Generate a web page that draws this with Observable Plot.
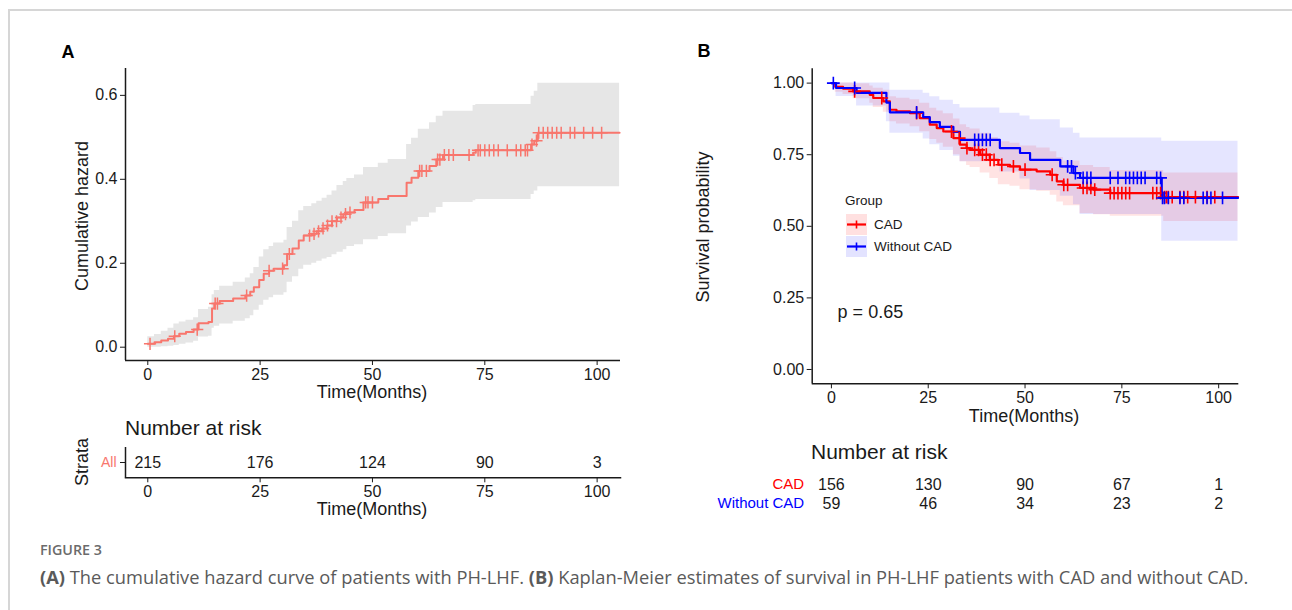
<!DOCTYPE html>
<html><head><meta charset="utf-8">
<script src="https://cdn.jsdelivr.net/npm/d3@7"></script>
<script src="https://cdn.jsdelivr.net/npm/@observablehq/plot@0.6"></script>
<style>
body{margin:0;background:#fff;}
#root{position:relative;width:1292px;height:610px;overflow:hidden;font-family:"Liberation Sans",Arial,sans-serif;color:#1a1a1a;}
.abs{position:absolute;white-space:nowrap;line-height:1;}
svg{overflow:visible;}
</style></head><body><div id="root"></div>
<script>
// ---------- Panel A: cumulative hazard ----------
const A_time   = [0,1.5,3,4.5,5.8,7,8.5,10.2,11.3,13.5,14.3,14.8,16,19,21.7,22.8,23.6,24.8,25.8,27,28,30.3,31,32.2,33.6,34.7,36.5,37.6,38.8,39.9,41,42.1,43.5,44.3,46,48,51.3,53.5,57.6,58.7,60.2,62.7,64.2,65.7,72.4,73,85.3,86,86.8];
const A_cumhaz = [0.008,0.012,0.016,0.020,0.026,0.032,0.036,0.042,0.057,0.060,0.092,0.104,0.110,0.116,0.123,0.132,0.143,0.160,0.175,0.182,0.187,0.195,0.222,0.235,0.254,0.266,0.270,0.276,0.283,0.290,0.300,0.309,0.317,0.321,0.327,0.345,0.353,0.360,0.392,0.404,0.420,0.432,0.447,0.458,0.463,0.469,0.483,0.492,0.511];
const A_lower  = [0.000,0.000,0.001,0.002,0.004,0.007,0.010,0.014,0.024,0.026,0.045,0.050,0.055,0.062,0.068,0.075,0.088,0.100,0.112,0.118,0.124,0.130,0.155,0.168,0.186,0.195,0.200,0.205,0.210,0.214,0.220,0.226,0.232,0.240,0.244,0.256,0.264,0.270,0.289,0.298,0.309,0.320,0.333,0.345,0.349,0.352,0.364,0.372,0.382];
const A_upper  = [0.025,0.030,0.038,0.045,0.055,0.060,0.064,0.070,0.090,0.095,0.125,0.135,0.145,0.155,0.165,0.175,0.190,0.215,0.232,0.240,0.248,0.255,0.285,0.300,0.325,0.335,0.342,0.348,0.355,0.362,0.372,0.385,0.395,0.402,0.410,0.428,0.438,0.447,0.483,0.498,0.519,0.535,0.550,0.562,0.576,0.578,0.598,0.610,0.629];
const A_censor = [0.5,6,11,15,15.5,22,27,30,31.5,36,37,38,39,40,41,42,43,44,45,48.5,49,50,60.5,61,62,64.5,65,66,67,68,71.5,73.5,74,75,76,77,78,80,82,83,84,84.5,85.5,86.5,87,88,89,90,91,92,94,95,97,99,101];
const A_xTicks = [0,25,50,75,100];
const A_yTicks = [0,0.2,0.4,0.6];
const A_riskTimes = [0,25,50,75,100];
const A_riskAll   = [215,176,124,90,3];

// ---------- Panel B: Kaplan-Meier ----------
const CAD_time  = [0,1,3,5.6,9.9,10.8,13.4,15.1,16.8,20.3,22.8,25.4,27.2,28.9,31.5,33.2,34.9,35.8,38.4,40.9,43.1,46.1,48.7,53,56.5,58.2,59.9,64.2,67.7,72,85.8];
const CAD_surv  = [1,0.987,0.981,0.971,0.959,0.948,0.936,0.907,0.901,0.895,0.878,0.855,0.843,0.831,0.808,0.785,0.773,0.767,0.750,0.732,0.715,0.709,0.698,0.692,0.680,0.657,0.645,0.634,0.628,0.616,0.602];
const CAD_lower = [1,0.968,0.960,0.945,0.930,0.915,0.898,0.865,0.857,0.848,0.830,0.803,0.790,0.776,0.750,0.725,0.712,0.705,0.686,0.667,0.645,0.640,0.628,0.622,0.608,0.585,0.572,0.545,0.540,0.535,0.517];
const CAD_upper = [1,1,1,0.998,0.990,0.982,0.975,0.952,0.947,0.942,0.930,0.912,0.903,0.893,0.875,0.855,0.845,0.840,0.825,0.810,0.795,0.790,0.780,0.773,0.760,0.740,0.728,0.712,0.705,0.695,0.686];
const CAD_censor = [6,13,22,31,33,35,37,38,39,40,41,42,44,47,50,57,60,61,65,66,67,68,72,73,74,75,76,77,83,84,85,86,86.5,87,88,90,91,92,94,97,99];

const WO_time  = [0,1.2,6.5,14.2,15.1,23.7,25.4,28,31.5,33.2,43.5,48.7,51.3,59.1,62.5,64.2,85.3];
const WO_surv  = [1,0.983,0.966,0.932,0.898,0.881,0.864,0.847,0.830,0.802,0.773,0.756,0.732,0.709,0.686,0.669,0.599];
const WO_lower = [1,0.953,0.920,0.865,0.825,0.805,0.785,0.765,0.745,0.725,0.690,0.665,0.625,0.605,0.575,0.541,0.448];
const WO_upper = [1,1,1,1,0.975,0.965,0.952,0.940,0.925,0.913,0.895,0.885,0.872,0.843,0.825,0.808,0.797];
const WO_censor = [0.5,6,22,37,38,39,40,41,61,62,63,65,66,67,72,74,76,77,78,79,80,81,84,85,85.5,86,87,90,91,96,97,98,101];

const B_xTicks = [0,25,50,75,100];
const B_yTicks = [0,0.25,0.5,0.75,1];
const B_riskTimes = [0,25,50,75,100];
const B_riskCAD = [156,130,90,67,1];
const B_riskWO  = [59,46,34,23,2];
const pLabel = "p = 0.65";

const END = 105;
const xDom = [-4.96, 105.2];

// ---------- helpers ----------
function steps(time, est, lo, hi){
  const rows = time.map((t,i)=>({t, est:est[i], lo:lo[i], hi:hi[i]}));
  const last = rows[rows.length-1];
  rows.push({...last, t:END});
  return rows;
}
function stepAt(time, vals, t){
  let v = vals[0];
  for (let i=0;i<time.length;i++){ if (time[i] <= t) v = vals[i]; }
  return v;
}
const root = document.getElementById("root");
function put(node, x, y){
  node.style.position="absolute"; node.style.left=x+"px"; node.style.top=y+"px";
  root.appendChild(node);
}
function txt(s, x, y, o={}){
  const d=document.createElement("div"); d.className="abs"; d.innerHTML=s;
  d.style.left=x+"px"; d.style.top=y+"px";
  d.style.fontSize=(o.size||18)+"px";
  if(o.weight) d.style.fontWeight=o.weight;
  if(o.color) d.style.color=o.color;
  if(o.family) d.style.fontFamily=o.family;
  const ax = o.anchor==="start"?"0":(o.anchor==="end"?"-100%":"-50%");
  d.style.transform=`translate(${ax},-50%)`;
  if(o.rot){ d.style.transform=`translate(-50%,-50%) rotate(${o.rot}deg)`; }
  root.appendChild(d); return d;
}

// ---------- frame of the figure ----------
const fr = document.createElement("div");
fr.style.cssText="position:absolute;left:8px;top:9px;right:-10px;bottom:-10px;border-top:2px solid #d6d6d6;border-left:2px solid #d6d6d6;";
root.appendChild(fr);

const ink = "#1a1a1a";
const baseStyle = {fontSize:"16px", fontFamily:"Liberation Sans, Arial, sans-serif", color:ink, background:"transparent"};

// ---------- Panel A main ----------
const dataA = steps(A_time, A_cumhaz, A_lower, A_upper);
const censA = A_censor.map(t=>({t, v:stepAt(A_time, A_cumhaz, t)}));
const plotA = Plot.plot({
  width:640, height:400, marginLeft:125, marginRight:20, marginTop:68, marginBottom:40,
  style:baseStyle,
  x:{domain:xDom},
  y:{domain:[-0.0317,0.664]},
  marks:[
    Plot.areaY(dataA,{x:"t", y1:"lo", y2:"hi", curve:"step-after", fill:"#e6e6e6"}),
    Plot.line(dataA,{x:"t", y:"est", curve:"step-after", stroke:"#F8766D", strokeWidth:2}),
    Plot.dot(censA,{x:"t", y:"v", symbol:"plus", r:4, stroke:"#F8766D", strokeWidth:1.5}),
    Plot.axisX({ticks:A_xTicks, tickSize:5, tickPadding:3, label:null, stroke:ink, fill:ink, tickFormat:d=>d}),
    Plot.axisY({ticks:A_yTicks, tickSize:5, tickPadding:3, label:null, stroke:ink, fill:ink, tickFormat:d3.format(".1f")}),
    Plot.ruleX([xDom[0]],{stroke:ink, strokeWidth:1.5}),
    Plot.ruleY([-0.0317],{stroke:ink, strokeWidth:1.5})
  ]
});
put(plotA, 0, 0);

// risk table A
const riskA = A_riskTimes.map((t,i)=>({t, g:"All", n:A_riskAll[i]}));
const plotAR = Plot.plot({
  width:640, height:60, marginLeft:125, marginRight:20, marginTop:7, marginBottom:22.7,
  style:baseStyle,
  x:{domain:xDom},
  y:{domain:["All"], padding:0},
  marks:[
    Plot.text(riskA,{x:"t", y:"g", text:"n", fill:ink, fontSize:16}),
    Plot.text(["All"],{y:d=>d, frameAnchor:"left", dx:-9, textAnchor:"end", text:d=>d, fill:"#F8766D", fontSize:14}),
    Plot.axisX({ticks:A_riskTimes, tickSize:5, tickPadding:3, label:null, stroke:ink, fill:ink, tickFormat:d=>d}),
    Plot.axisY({ticks:["All"], tickSize:5, tickPadding:3, label:null, stroke:ink, tickFormat:()=>""}),
    Plot.ruleX([xDom[0]],{stroke:ink, strokeWidth:1.5}),
    Plot.frame({anchor:"bottom", stroke:ink, strokeWidth:1.5})
  ]
});
put(plotAR, 0, 440);

// ---------- Panel B ----------
const dataCAD = steps(CAD_time, CAD_surv, CAD_lower, CAD_upper);
const dataWO  = steps(WO_time, WO_surv, WO_lower, WO_upper);
const censCAD = CAD_censor.map(t=>({t, v:stepAt(CAD_time, CAD_surv, t)}));
const censWO  = WO_censor.map(t=>({t, v:stepAt(WO_time, WO_surv, t)}));
const yB = [-0.05,1.05];
const plotB = Plot.plot({
  width:610, height:410, marginLeft:161.7, marginRight:21.7, marginTop:68.3, marginBottom:26.7,
  style:baseStyle,
  x:{domain:xDom},
  y:{domain:yB},
  marks:[
    Plot.areaY(dataCAD,{x:"t", y1:"lo", y2:"hi", curve:"step-after", fill:"#ff0000", fillOpacity:0.11}),
    Plot.areaY(dataWO,{x:"t", y1:"lo", y2:"hi", curve:"step-after", fill:"#0000ff", fillOpacity:0.10}),
    Plot.line(dataCAD,{x:"t", y:"est", curve:"step-after", stroke:"#ff0000", strokeWidth:2.2}),
    Plot.line(dataWO,{x:"t", y:"est", curve:"step-after", stroke:"#0000ff", strokeWidth:2.2}),
    Plot.dot(censCAD,{x:"t", y:"v", symbol:"plus", r:4.2, stroke:"#ff0000", strokeWidth:1.6}),
    Plot.dot(censWO,{x:"t", y:"v", symbol:"plus", r:4.2, stroke:"#0000ff", strokeWidth:1.6}),
    Plot.text([pLabel],{x:1.6, y:0.2, text:d=>d, textAnchor:"start", fontSize:18, fill:ink}),
    Plot.axisX({ticks:B_xTicks, tickSize:5, tickPadding:3, label:null, stroke:ink, fill:ink, tickFormat:d=>d}),
    Plot.axisY({ticks:B_yTicks, tickSize:5, tickPadding:3, label:null, stroke:ink, fill:ink, tickFormat:d3.format(".2f")}),
    Plot.ruleX([xDom[0]],{stroke:ink, strokeWidth:1.5}),
    Plot.ruleY([yB[0]],{stroke:ink, strokeWidth:1.5})
  ]
});
put(plotB, 650, 0);

// risk table B
const riskB = B_riskTimes.flatMap((t,i)=>[{t,g:"CAD",n:B_riskCAD[i]},{t,g:"Without CAD",n:B_riskWO[i]}]);
const plotBR = Plot.plot({
  width:610, height:50, marginLeft:161.7, marginRight:21.7, marginTop:18.3, marginBottom:11.7,
  style:baseStyle,
  x:{domain:xDom, axis:null},
  y:{domain:["CAD","Without CAD"], padding:0, axis:null},
  marks:[
    Plot.text(riskB,{x:"t", y:"g", text:"n", fill:ink, fontSize:16}),
    Plot.text(["CAD"],{y:d=>d, frameAnchor:"left", dx:-8, textAnchor:"end", text:d=>d, fill:"#ff0000", fontSize:15}),
    Plot.text(["Without CAD"],{y:d=>d, frameAnchor:"left", dx:-8, textAnchor:"end", text:d=>d, fill:"#0000ff", fontSize:15})
  ]
});
put(plotBR, 650, 465);

// legend B
const leg = document.createElement("div");
leg.className="abs";
leg.style.cssText="position:absolute;left:840px;top:194px;font-size:13.5px;color:#1a1a1a;line-height:1;";
leg.innerHTML = `<div style="margin:0 0 6px 5px">Group</div>` +
 [["CAD","#ff0000","rgba(255,0,0,0.12)"],["Without CAD","#0000ff","rgba(0,0,255,0.11)"]].map(([l,c,f])=>
 `<div style="display:flex;align-items:center;height:22px;margin-left:6px"><svg width="21" height="21" style="margin-right:7px"><rect width="21" height="21" fill="${f}"/><line x1="1" x2="20" y1="10.5" y2="10.5" stroke="${c}" stroke-width="2.2"/><line x1="10.5" x2="10.5" y1="6.5" y2="14.5" stroke="${c}" stroke-width="1.6"/></svg>${l}</div>`).join("");
root.appendChild(leg);

// ---------- text labels ----------
txt("A", 68, 52, {size:18, weight:"bold", color:"#000"});
txt("B", 704, 51, {size:18, weight:"bold", color:"#000"});
txt("Cumulative hazard", 82, 216, {size:18, rot:-90});
txt("Time(Months)", 372, 392, {size:18});
txt("Number at risk", 125, 427, {size:21, anchor:"start"});
txt("Strata", 82, 462, {size:18, rot:-90});
txt("Time(Months)", 372, 509, {size:18});
txt("Survival probability", 703, 227, {size:18, rot:-90});
txt("Time(Months)", 1024, 416, {size:18});
txt("Number at risk", 811, 451, {size:21, anchor:"start"});
txt("FIGURE 3", 40, 550, {size:14.3, weight:600, color:"#6b6b6b", family:"'Open Sans', sans-serif", anchor:"start"});
txt("<b>(A)</b> The cumulative hazard curve of patients with PH-LHF. <b>(B)</b> Kaplan-Meier estimates of survival in PH-LHF patients with CAD and without CAD.", 40, 577, {size:18.3, color:"#5a5a5a", family:"'Open Sans', sans-serif", anchor:"start"});
</script></body></html>
